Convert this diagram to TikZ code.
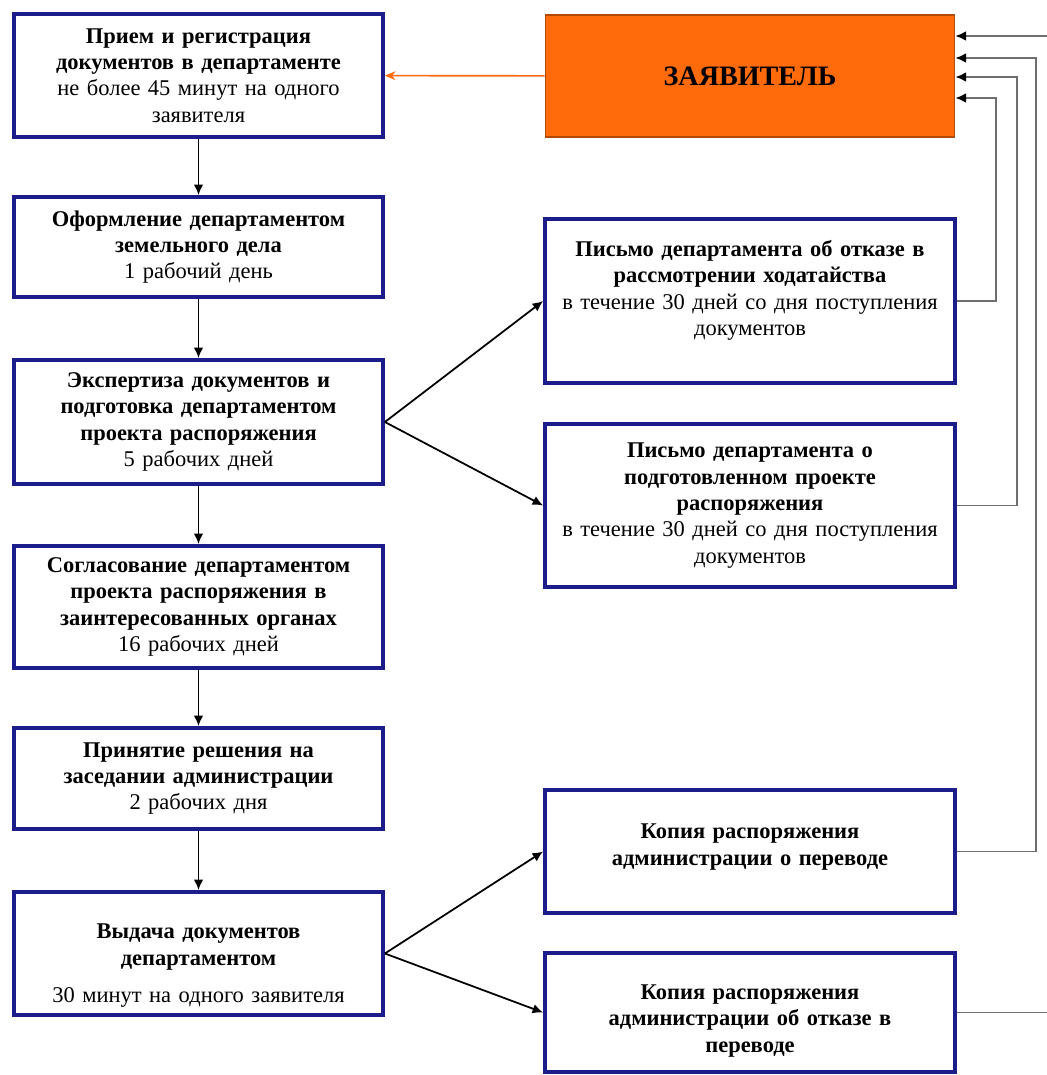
\documentclass[tikz,border=0pt]{standalone}
\usepackage{fontspec}
\setmainfont{Liberation Serif}
\usetikzlibrary{arrows.meta}
\definecolor{boxblue}{HTML}{1C1C8A}
\definecolor{applorange}{HTML}{FF6A0A}
\definecolor{linegray}{HTML}{6E6E6E}
\begin{document}
\begin{tikzpicture}[x=0.02cm, y=-0.02cm,
  font=\fontsize{12.8}{15}\selectfont,
  stage/.style={draw=boxblue, line width=2.2pt, align=center, inner sep=2pt,
    minimum width=7.38cm, text width=7.1cm},
  letter/.style={draw=boxblue, line width=2.2pt, align=center, inner sep=2pt,
    minimum width=8.2cm, text width=7.9cm},
  flow/.style={-{Latex[length=6pt,width=5.5pt]}, line width=1pt},
  back/.style={draw=linegray, line width=0.9pt, -{Latex[black,length=6pt,width=5.5pt]}}]
\useasboundingbox (0,0) rectangle (1047,1075);
% left column
\node[stage, minimum height=2.46cm] (priem) at (198.5,75.5)
  {\textbf{Прием и регистрация}\\ \textbf{документов в департаменте}\\ не более 45 минут на одного\\ заявителя};
\node[stage, minimum height=2cm] (oform) at (198.5,247)
  {\textbf{Оформление департаментом}\\ \textbf{земельного дела}\\ 1 рабочий день};
\node[stage, minimum height=2.48cm] (expert) at (198.5,422)
  {\textbf{Экспертиза документов и}\\ \textbf{подготовка департаментом}\\ \textbf{проекта распоряжения}\\ 5 рабочих дней};
\node[stage, minimum height=2.44cm] (soglas) at (198.5,607)
  {\textbf{Согласование департаментом}\\ \textbf{проекта распоряжения в}\\ \textbf{заинтересованных органах}\\ 16 рабочих дней};
\node[stage, minimum height=2.02cm] (reshen) at (198.5,778.5)
  {\textbf{Принятие решения на}\\ \textbf{заседании администрации}\\ 2 рабочих дня};
\node[stage, minimum height=2.46cm] (vydacha) at (198.5,953.5)
  {\rule{0pt}{22pt}\textbf{Выдача документов}\\ \textbf{департаментом}\\[6pt] 30 минут на одного заявителя};
% right column
\node[draw=applorange!70!black, fill=applorange, line width=0.6pt,
  minimum width=8.2cm, minimum height=2.44cm, font=\fontsize{16}{18}\selectfont]
  (zayav) at (750,76) {\textbf{ЗАЯВИТЕЛЬ}};
\node[letter, minimum height=3.28cm] (otkaz) at (750,301)
  {\textbf{Письмо департамента об отказе в}\\ \textbf{рассмотрении ходатайства}\\ в течение 30 дней со дня поступления\\ документов\\ \mbox{}};
\node[letter, minimum height=3.26cm] (proekt) at (750,505.5)
  {\textbf{Письмо департамента о}\\ \textbf{подготовленном проекте}\\ \textbf{распоряжения}\\ в течение 30 дней со дня поступления\\ документов};
\node[letter, minimum height=2.46cm] (kopiya) at (750,851.5)
  {\textbf{Копия распоряжения}\\ \textbf{администрации о переводе}\\[-7pt] \mbox{}};
\node[letter, minimum height=2.38cm] (kopotk) at (750,1012.5)
  {\rule{0pt}{18pt}\textbf{Копия распоряжения}\\ \textbf{администрации об отказе в}\\ \textbf{переводе}};
% main flow
\draw[flow] (priem) -- (oform);
\draw[flow] (oform) -- (expert);
\draw[flow] (expert) -- (soglas);
\draw[flow] (soglas) -- (reshen);
\draw[flow] (reshen) -- (vydacha);
\draw[-{Stealth[length=6pt,width=5pt]}, draw=applorange, line width=0.9pt] (zayav) -- (priem);
\draw[flow] (expert.east) -- (otkaz.west);
\draw[flow] (expert.east) -- (proekt.west);
\draw[flow] (vydacha.east) -- (kopiya.west);
\draw[flow] (vydacha.east) -- (kopotk.west);
% answers back to the applicant
\draw[back] (otkaz.east) -| (996,98) -- (zayav.east |- 996,98);
\draw[back] (proekt.east) -| (1017,77) -- (zayav.east |- 1017,77);
\draw[back] (kopiya.east) -| (1036,58) -- (zayav.east |- 1036,58);
\draw[back] (kopotk.east) -| (1060,36) -- (zayav.east |- 1060,36);
\end{tikzpicture}
\end{document}
